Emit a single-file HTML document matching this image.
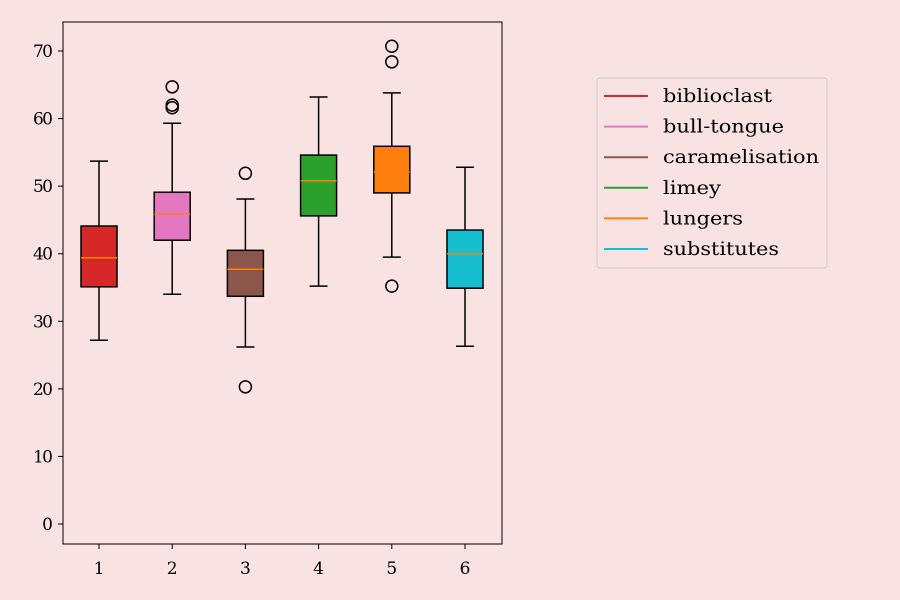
<!DOCTYPE html>
<html><head><meta charset="utf-8"><style>
body{margin:0;background:#f9e2e2;}
svg{display:block;font-family:"DejaVu Serif","Liberation Serif",serif;}
</style></head><body>
<svg id="chart" width="900" height="600">
<rect width="900" height="600" fill="#f9e2e2"/>
</svg>
<script>
const categories=["1","2","3","4","5","6"];
const seriesNames=["biblioclast","bull-tongue","caramelisation","limey","lungers","substitutes"];
const colors=["#d62728","#e377c2","#8c564b","#2ca02c","#ff7f0e","#17becf"];
const whiskLow=[27.2,34.0,26.2,35.2,39.5,26.3];
const q1=[35.1,42.0,33.7,45.6,49.0,34.9];
const medians=[39.4,45.9,37.7,50.8,52.1,40.0];
const q3=[44.1,49.1,40.5,54.6,55.9,43.5];
const whiskHigh=[53.7,59.3,48.1,63.2,63.8,52.8];
const fliers=[[],[64.7,62.0,61.6],[51.9,20.3],[],[70.7,68.4,35.2],[]];
const yTicks=[0,10,20,30,40,50,60,70];
const legendWidths=[109,121,156,58,80,116];

const NS="http://www.w3.org/2000/svg";
const svg=document.getElementById('chart');
const L=63,R=502,T=22,B=544;
const y=v=>524-6.757*v;
const x=i=>99+i*73.2;
function mk(tag,attrs,parent){const e=document.createElementNS(NS,tag);for(const k in attrs)e.setAttribute(k,attrs[k]);(parent||svg).appendChild(e);return e;}

const ax=mk('rect',{x:L,y:T,width:R-L,height:B-T,fill:'none',stroke:'#000','stroke-width':1});



yTicks.forEach(v=>{
 const g=mk('g',{});
 
 
 mk('line',{x1:L-5,x2:L,y1:y(v),y2:y(v),stroke:'#000'},g);
 const t=mk('text',{x:L-10,y:y(v)+6,'text-anchor':'end','font-size':17},g);t.textContent=v;
 if(v>=10) t.setAttribute('textLength',20);
});
categories.forEach((c,i)=>{
 const g=mk('g',{});
 
 
 mk('line',{x1:x(i),x2:x(i),y1:B,y2:B+5,stroke:'#000'},g);
 const t=mk('text',{x:x(i),y:B+30,'text-anchor':'middle','font-size':17},g);t.textContent=c;
});
const hw=18,cw=9;
categories.forEach((c,i)=>{
 const g=mk('g',{});
 
 
 const cx=x(i);
 mk('line',{x1:cx,x2:cx,y1:y(whiskLow[i]),y2:y(q1[i]),stroke:'#000','stroke-width':1.5},g);
 mk('line',{x1:cx,x2:cx,y1:y(q3[i]),y2:y(whiskHigh[i]),stroke:'#000','stroke-width':1.5},g);
 mk('line',{x1:cx-cw,x2:cx+cw,y1:y(whiskLow[i]),y2:y(whiskLow[i]),stroke:'#000','stroke-width':1.5},g);
 mk('line',{x1:cx-cw,x2:cx+cw,y1:y(whiskHigh[i]),y2:y(whiskHigh[i]),stroke:'#000','stroke-width':1.5},g);
 mk('rect',{x:cx-hw,y:y(q3[i]),width:2*hw,height:y(q1[i])-y(q3[i]),fill:colors[i],stroke:'#000','stroke-width':1.5},g);
 mk('line',{x1:cx-hw,x2:cx+hw,y1:y(medians[i]),y2:y(medians[i]),stroke:'#ff7f0e','stroke-width':1.5},g);
 fliers[i].forEach(f=>{
  const p=mk('circle',{cx:cx,cy:y(f),r:6,fill:'none',stroke:'#000','stroke-width':1.5},g);
  
  
 });
});
const lg=mk('g',{});


mk('rect',{x:597,y:78,width:230,height:190,rx:3,fill:'#f9e2e2',stroke:'#ccc'},lg);
seriesNames.forEach((n,i)=>{
 const g=mk('g',{},lg);
 
 
 const yy=96+i*30.6;
 mk('line',{x1:604,x2:648,y1:yy,y2:yy,stroke:colors[i],'stroke-width':2},g);
 const t=mk('text',{x:663,y:yy+6,'font-size':19,textLength:legendWidths[i],lengthAdjust:'spacingAndGlyphs'},g);t.textContent=n;
});
</script>
</body></html>
